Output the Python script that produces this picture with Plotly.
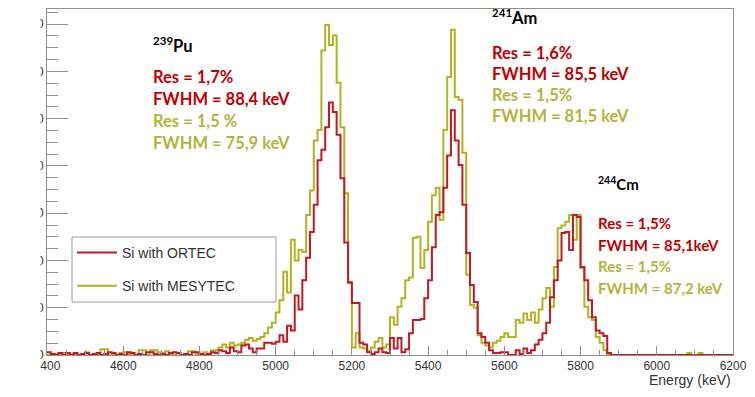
import plotly.graph_objects as go

# ---------------- data (10 keV bins starting at 4400 keV) ----------------
bin_width = 10
energy_start = 4400

ortec_counts = [
    3, 1, 0, 2, 0, 2, 0, 2, 0, 1,            # 4400
    2, 0, 1, 2, 0, 1, 3, 2, 0, 1,            # 4500
    0, 3, 2, 0, 1, 0, 3, 3, 1, 0,            # 4600
    1, 0, 2, 3, 2, 0, 1, 0, 3, 3,            # 4700
    1, 0, 1, 3, 2, 5, 4, 2, 8, 4,            # 4800
    3, 10, 11, 7, 3, 7, 7, 13, 13, 12,       # 4900
    14, 21, 14, 31, 26, 63, 48, 79, 103, 130,   # 5000
    159, 206, 217, 241, 267, 257, 233, 187, 119, 77,  # 5100
    55, 55, 13, 11, 3, 1, 3, 7, 3, 2,        # 5200
    18, 7, 18, 3, 6, 23, 37, 37, 38, 60,     # 5300
    79, 114, 148, 151, 177, 211, 259, 227, 201, 159,  # 5400
    108, 74, 56, 23, 19, 13, 5, 2, 2, 3,     # 5500
    3, 0, 0, 5, 1, 7, 2, 5, 11, 16,          # 5600
    23, 34, 61, 79, 100, 129, 130, 111, 148, 146,     # 5700
    93, 79, 58, 40, 26, 23, 20, 2, 0, 0,     # 5800
    0, 0, 0, 0, 0, 0, 0, 0, 0, 0,            # 5900
    0, 0, 0, 0, 0, 0, 0, 0, 0, 0,            # 6000
    0, 0, 0, 0, 0, 0, 0, 0, 0, 0,            # 6100
]

mesytec_counts = [
    0, 0, 1, 0, 2, 0, 1, 0, 0, 1,            # 4400
    3, 0, 1, 0, 6, 6, 0, 1, 0, 2,            # 4500
    3, 1, 0, 0, 5, 5, 0, 5, 5, 3,            # 4600
    2, 4, 1, 0, 2, 0, 1, 4, 4, 1,            # 4700
    0, 3, 1, 5, 5, 8, 11, 8, 13, 10,         # 4800
    11, 13, 16, 18, 15, 17, 19, 23, 29, 34,  # 4900
    45, 58, 88, 66, 122, 100, 111, 109, 148, 174,     # 5000
    227, 238, 322, 349, 328, 338, 288, 241, 171, 76,  # 5100
    8, 23, 8, 7, 4, 8, 14, 18, 8, 11,        # 5200
    40, 32, 51, 60, 79, 82, 124, 125, 92, 111,        # 5300
    141, 169, 177, 143, 238, 294, 344, 273, 270, 214, # 5400
    85, 53, 50, 21, 13, 10, 8, 13, 15, 19,   # 5500
    23, 19, 19, 37, 34, 44, 37, 45, 34, 48,  # 5600
    60, 71, 51, 93, 134, 137, 141, 148, 122, 148,     # 5700
    92, 51, 40, 37, 19, 13, 5, 0, 0, 0,      # 5800
    0, 0, 0, 0, 0, 0, 0, 0, 0, 0,            # 5900
    0, 0, 0, 0, 0, 0, 0, 0, 2, 0,            # 6000
    0, 2, 0, 0, 0, 0, 0, 0, 0, 0,            # 6100
]

series_names = ["Si with ORTEC", "Si with MESYTEC"]
x_tick_values = [4400, 4600, 4800, 5000, 5200, 5400, 5600, 5800, 6000, 6200]
x_title = "Energy (keV)"

peak_labels = [
    # (isotope mass, symbol, [(text, colour_key), ...])
    ("239", "Pu", [("Res = 1,7%", "r"), ("FWHM = 88,4 keV", "r"),
                   ("Res = 1,5 %", "y"), ("FWHM = 75,9 keV", "y")]),
    ("241", "Am", [("Res = 1,6%", "r"), ("FWHM = 85,5 keV", "r"),
                   ("Res = 1,5%", "y"), ("FWHM = 81,5 keV", "y")]),
    ("244", "Cm", [("Res = 1,5%", "r"), ("FWHM = 85,1keV", "r"),
                   ("Res = 1,5%", "y"), ("FWHM = 87,2 keV", "y")]),
]

# ---------------- styling ----------------
W, H = 755, 397
PL, PR, PT, PB = 47, 733, 9, 355  # plot area in pixels
RED_LINE = "#c21a24"
YEL_LINE = "#b3b321"
RED_TXT = "#c00000"
YEL_TXT = "#b4b43c"
AXIS_C = "#8f8f8f"

def px_x(px):
    return (px - PL) / (PR - PL)

def px_y(py):
    return (PB - py) / (PB - PT)

edges = [energy_start + bin_width * i for i in range(len(ortec_counts) + 1)]

fig = go.Figure()
fig.add_trace(go.Scatter(
    x=edges, y=mesytec_counts + [mesytec_counts[-1]], mode="lines",
    line=dict(shape="hv", color=YEL_LINE, width=2),
    name=series_names[1], legendrank=2, legendgroup="b"))
fig.add_trace(go.Scatter(
    x=edges, y=ortec_counts + [ortec_counts[-1]], mode="lines",
    line=dict(shape="hv", color=RED_LINE, width=2),
    name=series_names[0], legendrank=1, legendgroup="a"))

annotations = []
# peak annotation blocks: (x px, isotope y px, first line y px, line step px, font size)
blocks = [(151, 45, 77, 22, 16.5), (490, 17, 53, 21, 16.5), (596, 183, 223, 21.5, 15)]
for (mass, sym, lines), (bx, iy, ly, step, fs) in zip(peak_labels, blocks):
    annotations.append(dict(
        x=px_x(bx), y=px_y(iy), xref="paper", yref="paper",
        xanchor="left", yanchor="middle", showarrow=False,
        text=f"<sup>{mass}</sup>{sym}",
        font=dict(family="Lato", size=fs, color="#000000", weight="bold")))
    for k, (txt, ck) in enumerate(lines):
        annotations.append(dict(
            x=px_x(bx), y=px_y(ly + k * step), xref="paper", yref="paper",
            xanchor="left", yanchor="middle", showarrow=False, text=txt,
            font=dict(family="Lato", size=fs,
                      color=RED_TXT if ck == "r" else YEL_TXT, weight="bold")))

annotations.append(dict(
    x=1.0, y=px_y(380), xref="paper", yref="paper", xanchor="right",
    yanchor="middle", showarrow=False, text=x_title,
    font=dict(family="Liberation Sans", size=14, color="#333333")))

shapes = [
    # legend frame
    dict(type="rect", xref="paper", yref="paper",
         x0=px_x(72), x1=px_x(276), y0=px_y(302), y1=px_y(237),
         line=dict(color="#9a9a9a", width=1), fillcolor="white", layer="above"),
    # white margin strip (reference image is cropped on the left)
    dict(type="rect", xref="paper", yref="paper",
         x0=-0.1, x1=px_x(40.5), y0=-0.2, y1=1.1,
         line=dict(width=0), fillcolor="white", layer="above"),
]

fig.update_layout(
    width=W, height=H,
    margin=dict(l=PL, r=W - PR, t=PT, b=H - PB, pad=0),
    paper_bgcolor="white", plot_bgcolor="white",
    showlegend=True,
    legend=dict(x=px_x(72), y=px_y(237), xanchor="left", yanchor="top",
                bgcolor="rgba(0,0,0,0)", borderwidth=0,
                font=dict(family="Liberation Sans", size=14, color="#333333"),
                tracegroupgap=12, itemwidth=40),
    annotations=annotations,
    shapes=shapes,
)

fig.update_xaxes(
    range=[4400, 6200], tickvals=x_tick_values,
    ticks="inside", ticklen=9, tickwidth=1, tickcolor=AXIS_C,
    minor=dict(dtick=50, ticks="inside", ticklen=5, tickcolor=AXIS_C),
    showline=True, linecolor=AXIS_C, linewidth=1, mirror=True,
    showgrid=False, zeroline=False,
    tickfont=dict(family="Liberation Sans", size=12, color="#333333"),
)
fig.update_yaxes(
    range=[0, 366], tick0=0, dtick=50,
    ticks="inside", ticklen=21, tickwidth=1, tickcolor=AXIS_C,
    minor=dict(dtick=12.5, ticks="inside", ticklen=11, tickcolor=AXIS_C),
    showline=True, linecolor=AXIS_C, linewidth=1, mirror=True,
    showgrid=False, zeroline=False, ticklabelstandoff=0,
    tickfont=dict(family="Liberation Sans", size=12, color="#333333"),
)

fig.write_html("out.html")
